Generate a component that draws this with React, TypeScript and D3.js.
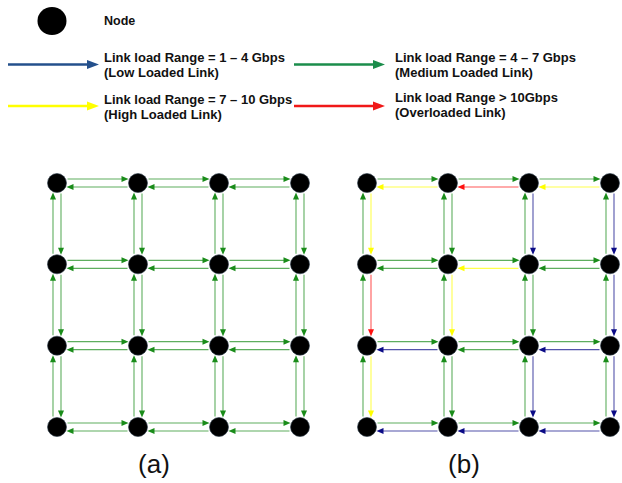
import { useEffect, useRef } from 'react';
import * as d3 from 'd3';

type Load = 'L' | 'M' | 'H' | 'O';

// grid indices
const gridIdx = [0, 1, 2, 3];

// legend entries
const legendLoads: Load[] = ['L', 'M', 'H', 'O'];
const legendLine1 = [
  'Link load Range = 1 \u2013 4 Gbps',
  'Link load Range = 4 \u2013 7 Gbps',
  'Link load Range = 7 \u2013 10 Gbps',
  'Link load Range > 10Gbps',
];
const legendLine2 = [
  '(Low Loaded Link)',
  '(Medium Loaded Link)',
  '(High Loaded Link)',
  '(Overloaded Link)',
];

// network (a): every link medium loaded
const aRight: Load[][] = [['M', 'M', 'M'], ['M', 'M', 'M'], ['M', 'M', 'M'], ['M', 'M', 'M']];
const aLeft: Load[][] = [['M', 'M', 'M'], ['M', 'M', 'M'], ['M', 'M', 'M'], ['M', 'M', 'M']];
const aUp: Load[][] = [['M', 'M', 'M', 'M'], ['M', 'M', 'M', 'M'], ['M', 'M', 'M', 'M']];
const aDown: Load[][] = [['M', 'M', 'M', 'M'], ['M', 'M', 'M', 'M'], ['M', 'M', 'M', 'M']];

// network (b)
const bRight: Load[][] = [['M', 'M', 'M'], ['M', 'M', 'M'], ['M', 'M', 'M'], ['M', 'M', 'M']];
const bLeft: Load[][] = [['H', 'O', 'H'], ['M', 'H', 'M'], ['L', 'M', 'L'], ['L', 'L', 'L']];
const bUp: Load[][] = [['M', 'M', 'M', 'M'], ['M', 'M', 'M', 'M'], ['M', 'M', 'M', 'M']];
const bDown: Load[][] = [['H', 'M', 'L', 'L'], ['O', 'H', 'M', 'L'], ['H', 'M', 'L', 'L']];

const gridColor: Record<Load, string> = { L: '#0a0a86', M: '#1a8c1a', H: '#ffff00', O: '#ff1010' };
const legendColor: Record<Load, string> = { L: '#24508c', M: '#1b8d4b', H: '#ffff00', O: '#f01818' };

const FONT = '"Liberation Sans", Arial, sans-serif';

function arrow(
  g: d3.Selection<SVGGElement, unknown, null, undefined>,
  x1: number, y1: number, x2: number, y2: number,
  color: string,
  o: { off: number; gap0: number; gap1: number; head: number; half: number; sw: number; lineOpacity: number },
) {
  const len = Math.hypot(x2 - x1, y2 - y1);
  const ux = (x2 - x1) / len;
  const uy = (y2 - y1) / len;
  const nx = uy * o.off;
  const ny = -ux * o.off;
  const sx = x1 + nx + ux * o.gap0;
  const sy = y1 + ny + uy * o.gap0;
  const tx = x2 + nx - ux * o.gap1;
  const ty = y2 + ny - uy * o.gap1;
  const bx = tx - ux * o.head;
  const by = ty - uy * o.head;
  g.append('line')
    .attr('x1', sx).attr('y1', sy)
    .attr('x2', bx + ux).attr('y2', by + uy)
    .attr('stroke', color)
    .attr('stroke-width', o.sw)
    .attr('stroke-opacity', o.lineOpacity);
  g.append('path')
    .attr('d', `M${tx},${ty}L${bx + uy * o.half},${by - ux * o.half}L${bx - uy * o.half},${by + ux * o.half}Z`)
    .attr('fill', color);
}

export default function App() {
  const svgRef = useRef<SVGSVGElement>(null);
  const width = 622;
  const height = 483;

  useEffect(() => {
    if (!svgRef.current) return;
    const svg = d3.select(svgRef.current);
    svg.selectAll('*').remove();

    svg.append('rect').attr('width', width).attr('height', height).attr('fill', '#fff');

    // ---- legend
    const lg = svg.append('g');
    lg.append('ellipse')
      .attr('cx', 52).attr('cy', 21)
      .attr('rx', 14.5).attr('ry', 14)
      .attr('fill', '#000');
    lg.append('text')
      .attr('x', 104).attr('y', 25)
      .attr('font-family', FONT).attr('font-size', '12.5px').attr('font-weight', 'bold')
      .attr('fill', '#111')
      .text('Node');

    const legX = d3.scalePoint<number>().domain([0, 1]).range([8, 294]);
    const legY = d3.scalePoint<number>().domain([0, 1]).range([64.5, 106]);
    const legendArrow = { off: 0, gap0: 0, gap1: 0, head: 12, half: 4.5, sw: 2.6, lineOpacity: 1 };

    legendLoads.forEach((ld, i) => {
      const col = i % 2;
      const row = Math.floor(i / 2);
      const x0 = legX(col)!;
      const y0 = legY(row)!;
      arrow(lg, x0, y0, x0 + 91, y0, legendColor[ld], legendArrow);
      const tx = col === 0 ? 104 : 395;
      const ty = y0 - 2.5 - (row === 1 && col === 1 ? 1.5 : 0);
      lg.append('text')
        .attr('x', tx).attr('y', ty)
        .attr('font-family', FONT).attr('font-size', '13px').attr('font-weight', 'bold')
        .attr('fill', '#111')
        .text(legendLine1[i]);
      lg.append('text')
        .attr('x', tx).attr('y', ty + 15)
        .attr('font-family', FONT).attr('font-size', '13px').attr('font-weight', 'bold')
        .attr('fill', '#111')
        .text(legendLine2[i]);
    });

    // ---- networks
    const yScale = d3.scalePoint<number>().domain(gridIdx).range([183, 427]);
    const linkStyle = { off: 4, gap0: 10.5, gap1: 9.5, head: 7, half: 3, sw: 1.1, lineOpacity: 0.7 };

    const panels = [
      { x0: 57, x1: 300, label: '(a)', labelX: 154, right: aRight, left: aLeft, up: aUp, down: aDown },
      { x0: 367, x1: 610, label: '(b)', labelX: 464, right: bRight, left: bLeft, up: bUp, down: bDown },
    ];

    panels.forEach(p => {
      const xScale = d3.scalePoint<number>().domain(gridIdx).range([p.x0, p.x1]);
      const g = svg.append('g');

      gridIdx.forEach(r => {
        gridIdx.slice(0, 3).forEach(c => {
          const xa = xScale(c)!, xb = xScale(c + 1)!, y = yScale(r)!;
          arrow(g, xa, y, xb, y, gridColor[p.right[r][c]], linkStyle);
          arrow(g, xb, y, xa, y, gridColor[p.left[r][c]], linkStyle);
        });
      });
      gridIdx.slice(0, 3).forEach(r => {
        gridIdx.forEach(c => {
          const x = xScale(c)!, ya = yScale(r)!, yb = yScale(r + 1)!;
          arrow(g, x, ya, x, yb, gridColor[p.down[r][c]], linkStyle);
          arrow(g, x, yb, x, ya, gridColor[p.up[r][c]], linkStyle);
        });
      });

      gridIdx.forEach(r => {
        gridIdx.forEach(c => {
          g.append('circle')
            .attr('cx', xScale(c)!).attr('cy', yScale(r)!)
            .attr('r', 9.5)
            .attr('fill', '#000')
            .attr('stroke', '#2a3a4a')
            .attr('stroke-width', 0.6);
        });
      });

      g.append('text')
        .attr('x', p.labelX).attr('y', 473)
        .attr('text-anchor', 'middle')
        .attr('font-family', FONT).attr('font-size', '26px')
        .attr('fill', '#111')
        .text(p.label);
    });
  }, []);

  return (
    <svg
      ref={svgRef}
      width={width}
      height={height}
      style={{ display: 'block', position: 'absolute', left: 0, top: 0 }}
    />
  );
}
